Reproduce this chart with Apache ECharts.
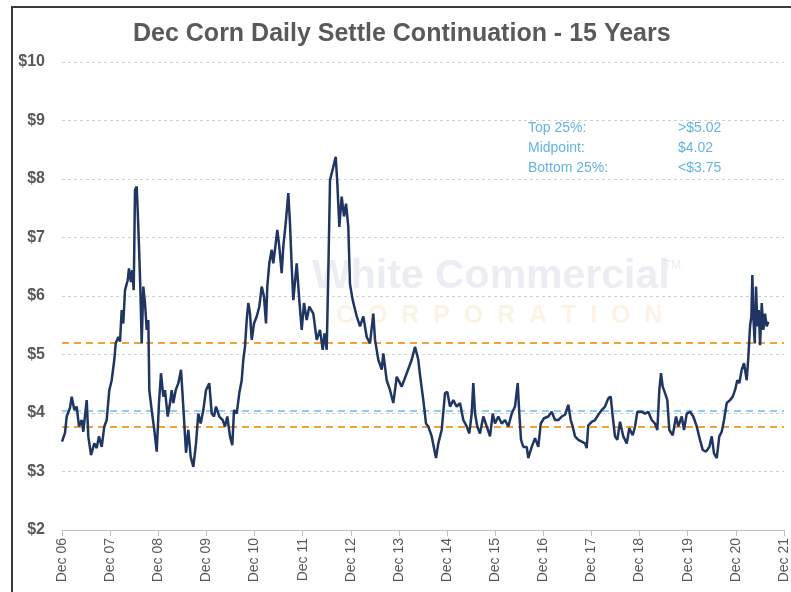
<!DOCTYPE html>
<html>
<head>
<meta charset="utf-8">
<title>Dec Corn Daily Settle Continuation</title>
<script src="https://cdn.jsdelivr.net/npm/echarts@6/dist/echarts.min.js"></script>
<style>
  html, body { margin: 0; padding: 0; background: #fff; }
  #main { width: 791px; height: 592px; }
</style>
</head>
<body>
<div id="main"></div>
<script>
// x = months since Dec 06, y = settle price ($/bu)
var months = [
  0, 0.75, 1.17, 2.0, 2.42, 3.07, 3.66, 4.24, 4.91, 5.31, 6.16, 6.56, 7.23, 8.05, 8.65, 9.22, 9.9, 10.55, 11.14, 11.54,
  11.79, 12.39, 13.04, 13.39, 14.04, 14.46, 14.88, 15.28, 15.71, 16.38, 16.7, 17.2, 17.53, 17.88, 18.2, 18.62, 18.87, 19.2, 19.52, 19.87,
  20.27, 20.69, 21.12, 21.52, 21.77, 22.36, 23.01, 23.61, 24.18, 24.68, 25.26, 25.68, 26.35, 26.93, 27.35, 27.75, 28.35, 29.0, 29.67, 30.24,
  30.92, 31.49, 32.09, 32.74, 33.41, 33.98, 34.58, 35.23, 35.9, 36.72, 37.32, 37.9, 38.39, 39.22, 40.06, 40.64, 41.21, 41.88, 42.46, 42.88,
  43.56, 44.2, 44.8, 45.2, 45.62, 46.05, 46.45, 46.87, 47.3, 47.87, 48.54, 49.19, 49.79, 50.36, 50.86, 51.18, 51.68, 52.28, 52.68, 53.18,
  53.68, 54.18, 54.77, 55.17, 55.85, 56.42, 56.84, 57.27, 57.67, 58.51, 59.16, 59.76, 60.33, 61.01, 61.66, 62.65, 63.5, 64.32, 65.0, 65.44,
  65.99, 66.39, 66.82, 67.64, 68.24, 68.64, 69.14, 69.73, 70.31, 70.81, 71.38, 71.8, 72.48, 73.48, 74.3, 75.12, 75.97, 76.79, 77.61, 78.04,
  78.86, 79.71, 80.1, 80.95, 81.78, 82.6, 83.45, 84.69, 85.94, 87.19, 88.01, 88.83, 89.25, 90.08, 90.75, 91.32, 92.17, 93.24, 93.82, 94.66,
  95.49, 96.06, 96.73, 97.56, 98.4, 99.23, 100.05, 100.9, 101.55, 102.14, 102.54, 102.97, 103.54, 104.21, 105.04, 105.88, 106.71, 107.38, 107.95, 108.78,
  109.62, 110.45, 111.27, 112.12, 112.94, 113.61, 114.01, 114.44, 115.01, 115.86, 116.25, 117.1, 117.93, 118.75, 119.35, 120.17, 121.24, 122.09, 122.91, 123.73,
  124.58, 125.4, 126.23, 126.83, 127.32, 127.9, 128.72, 129.57, 130.39, 130.81, 131.21, 132.06, 132.89, 133.71, 134.56, 135.38, 136.2, 136.8, 137.3, 137.87,
  138.44, 139.12, 139.94, 140.79, 141.44, 142.28, 142.86, 143.43, 144.53, 145.35, 146.17, 147.02, 147.84, 148.42, 148.92, 149.34, 149.76, 150.34, 150.91, 151.41,
  152.26, 153.08, 153.65, 154.5, 155.07, 155.75, 156.57, 157.39, 158.24, 159.06, 159.73, 160.56, 161.38, 161.98, 162.55, 163.23, 163.87, 164.47, 165.05, 165.72,
  166.54, 167.21, 167.79, 168.36, 168.86, 169.46, 170.03, 170.71, 171.11, 171.53, 171.86, 172.11, 172.36, 172.71, 173.03, 173.36, 173.71, 174.03, 174.45, 174.85,
  175.27, 175.69, 176.09
];
var settle = [
  3.51, 3.66, 3.94, 4.09, 4.28, 4.05, 4.11, 3.77, 3.88, 3.68, 4.22, 3.60, 3.28, 3.48, 3.40, 3.60, 3.42, 3.77, 3.88, 3.91,
  4.39, 4.56, 4.91, 5.19, 5.30, 5.22, 5.76, 5.53, 6.10, 6.27, 6.47, 6.24, 6.44, 6.10, 7.81, 7.87, 7.47, 6.84, 6.16, 5.19,
  6.16, 5.88, 5.42, 5.59, 4.39, 4.05, 3.71, 3.34, 4.17, 4.68, 4.28, 4.39, 3.94, 4.17, 4.39, 4.17, 4.39, 4.51, 4.74, 4.11,
  3.32, 3.71, 3.25, 3.08, 3.48, 3.99, 3.82, 4.05, 4.39, 4.51, 3.99, 3.94, 4.11, 3.94, 3.88, 3.77, 3.94, 3.60, 3.45, 4.05,
  3.99, 4.34, 4.56, 4.91, 5.13, 5.59, 5.88, 5.70, 5.25, 5.53, 5.65, 5.82, 6.16, 5.99, 5.53, 6.16, 6.56, 6.79, 6.56, 6.84,
  7.13, 6.84, 6.39, 6.84, 7.30, 7.76, 7.24, 6.50, 5.93, 6.56, 5.93, 5.42, 5.88, 5.59, 5.82, 5.70, 5.25, 5.42, 5.08, 5.36,
  5.08, 6.39, 7.98, 8.21, 8.38, 7.93, 7.18, 7.70, 7.36, 7.58, 7.18, 6.20, 5.93, 5.65, 5.48, 5.65, 5.30, 5.19, 5.70, 5.25,
  4.91, 4.74, 5.02, 4.56, 4.39, 4.17, 4.62, 4.45, 4.68, 4.91, 5.13, 4.91, 4.65, 4.22, 3.82, 3.77, 3.60, 3.23, 3.48, 3.71,
  4.34, 4.36, 4.11, 4.22, 4.11, 4.17, 3.88, 3.77, 3.65, 3.99, 4.51, 3.99, 3.77, 3.65, 3.94, 3.77, 3.60, 3.99, 3.82, 3.94,
  3.82, 3.88, 3.77, 3.99, 4.11, 4.51, 3.99, 3.54, 3.42, 3.42, 3.23, 3.42, 3.57, 3.42, 3.82, 3.91, 3.94, 4.02, 3.88, 3.88,
  3.94, 3.97, 4.14, 3.88, 3.77, 3.60, 3.54, 3.51, 3.48, 3.40, 3.79, 3.85, 3.88, 3.97, 4.05, 4.11, 4.25, 4.28, 3.94, 3.60,
  3.54, 3.85, 3.60, 3.48, 3.74, 3.62, 3.77, 4.02, 4.02, 3.99, 4.02, 3.88, 3.82, 3.71, 4.39, 4.68, 4.45, 4.34, 4.22, 3.71,
  3.62, 3.94, 3.77, 3.94, 3.71, 3.99, 4.02, 3.94, 3.77, 3.54, 3.37, 3.34, 3.42, 3.60, 3.31, 3.23, 3.60, 3.68, 3.88, 4.17,
  4.22, 4.28, 4.39, 4.56, 4.51, 4.74, 4.85, 4.56, 4.96, 5.48, 5.65, 6.36, 5.65, 5.19, 6.16, 5.48, 5.76, 5.16, 5.88, 5.42,
  5.70, 5.48, 5.56
];

var yearLabels = ["Dec 06", "Dec 07", "Dec 08", "Dec 09", "Dec 10", "Dec 11", "Dec 12", "Dec 13",
                  "Dec 14", "Dec 15", "Dec 16", "Dec 17", "Dec 18", "Dec 19", "Dec 20", "Dec 21"];

// dashed reference levels drawn across the chart
var upperLevel = 5.2;
var midLevel = 4.04;
var lowerLevel = 3.77;

// text box, top right
var boxLabels = ["Top 25%:", "Midpoint:", "Bottom 25%:"];
var boxValues = [">$5.02", "$4.02", "<$3.75"];

var points = months.map(function (m, i) { return [m, settle[i]]; });

var myChart = echarts.init(document.getElementById("main"));

var boxGraphics = [];
boxLabels.forEach(function (t, i) {
  boxGraphics.push({
    type: "text", left: 528, top: 121 + i * 20, z: 10,
    style: { text: t, fill: "#63b4e2", font: "14px 'Liberation Sans', Arial" }
  });
  boxGraphics.push({
    type: "text", left: 678, top: 121 + i * 20, z: 10,
    style: { text: boxValues[i], fill: "#63b4e2", font: "14px 'Liberation Sans', Arial" }
  });
});

myChart.setOption({
  animation: false,
  title: {
    text: "Dec Corn Daily Settle Continuation - 15 Years",
    left: 128,
    top: 17,
    textStyle: {
      color: "#595959",
      fontSize: 25,
      fontWeight: "bold",
      fontFamily: "Liberation Sans, Arial"
    }
  },
  grid: { left: 62, right: 7, top: 62, bottom: 62 },
  xAxis: {
    type: "value",
    min: 0,
    max: 180,
    interval: 12,
    axisLine: { show: true, onZero: false, lineStyle: { color: "#bfbfbf", width: 1 } },
    axisTick: { show: true, length: 6, lineStyle: { color: "#bfbfbf" } },
    splitLine: { show: false },
    axisLabel: {
      rotate: 90,
      color: "#595959",
      fontSize: 14,
      fontFamily: "Liberation Sans, Arial",
      margin: 8,
      formatter: function (v) { return yearLabels[Math.round(v / 12)] || ""; }
    }
  },
  yAxis: {
    type: "value",
    min: 2,
    max: 10,
    interval: 1,
    axisLine: { show: false },
    axisTick: { show: false },
    splitLine: { lineStyle: { color: "#d0d0d0", type: [3, 3], width: 1 } },
    axisLabel: {
      color: "#595959",
      fontSize: 16,
      fontWeight: "bold",
      fontFamily: "Liberation Sans, Arial",
      margin: 17,
      formatter: function (v) { return "$" + v; }
    }
  },
  series: [
    {
      type: "line",
      data: points,
      showSymbol: false,
      smooth: false,
      lineStyle: { color: "#1f3562", width: 2.5 },
      z: 5,
      markLine: {
        silent: true,
        symbol: "none",
        label: { show: false },
        z: 3,
        data: [
          { yAxis: upperLevel, lineStyle: { color: "#f4a03a", type: [7, 5], width: 2 } },
          { yAxis: midLevel, lineStyle: { color: "#6cbde9", type: [7, 5], width: 1.5 } },
          { yAxis: lowerLevel, lineStyle: { color: "#f4a03a", type: [7, 5], width: 2 } }
        ]
      }
    }
  ],
  graphic: [
    // frame around the chart
    { type: "polyline", shape: { points: [[12, 600], [12, 7], [800, 7]] },
      style: { stroke: "#3a3a3a", lineWidth: 2, fill: null }, silent: true },
    // faint watermark
    { type: "text", left: 312, top: 256, z: 0, silent: true,
      style: { text: "White Commercial", fill: "rgba(190,196,212,0.3)", font: "bold 41px 'Liberation Sans', Arial" } },
    { type: "text", left: 664, top: 260, z: 0, silent: true,
      style: { text: "TM", fill: "rgba(190,196,212,0.3)", font: "12px 'Liberation Sans', Arial" } },
    { type: "text", left: 336, top: 304, z: 0, silent: true,
      style: { text: "C  O  R  P  O  R  A  T  I  O  N", fill: "rgba(250,215,165,0.3)", font: "bold 25px 'Liberation Sans', Arial" } }
  ].concat(boxGraphics)
});
</script>
</body>
</html>
